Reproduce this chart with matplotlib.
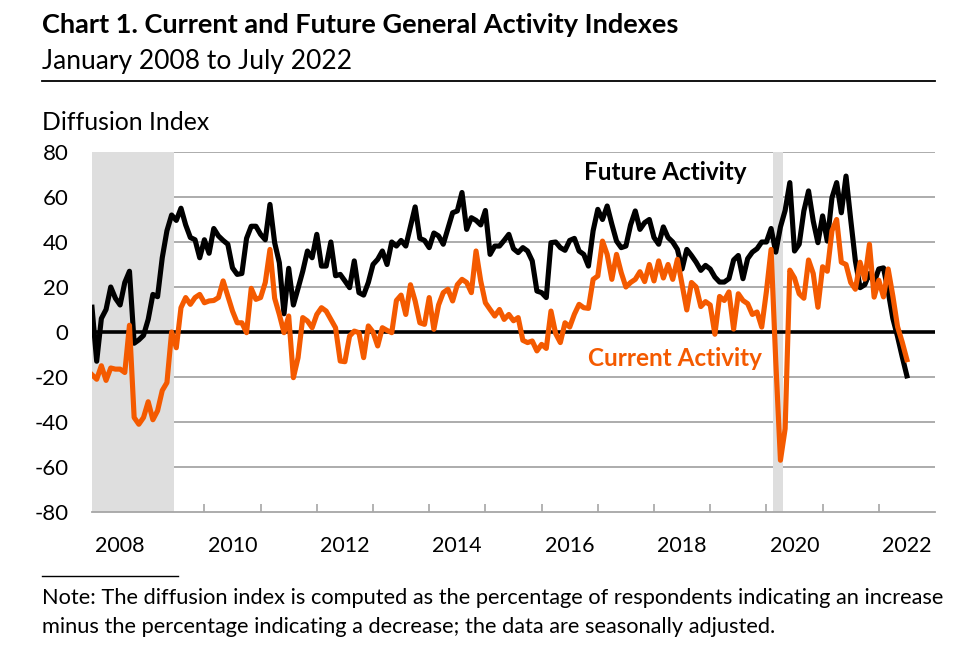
import numpy as np
import matplotlib.pyplot as plt

# Monthly diffusion indexes, January 2008 to July 2022
current = [
    -19, -21, -15, -21.5, -16, -16.5, -16.5, -18, 3, -38, -41, -38,
    -31, -39, -35, -26, -22.5, 0, -7, 10.8, 15.3, 12.3, 15.3, 16.7,
    13, 13.8, 14, 15.3, 22.7, 16, 9.3, 4.1, 4.1, -0.3, 19.4, 14.5,
    15.3, 22, 36.7, 15, 7.8, -0.3, 7.1, -20.3, -11.4, 6.4, 4.9, 1.9,
    7.8, 10.8, 9.3, 5.6, 1.9, -12.9, -13.2, -1.8, 0.4, -0.3, -11.4, 2.7,
    0, -6.2, 1.9, 0.7, -0.3, 14, 16.4, 7.8, 21, 13.8, 4.1, 3.4,
    15.3, 1.2, 12, 17.5, 19, 13.8, 21, 23.4, 22, 17.5, 36, 22.7,
    13, 10, 7.1, 10, 5.6, 7.8, 5, 6.4, -3.7, -4.7, -4, -8.4,
    -5.5, -7.3, 9.3, -0.7, -4.7, 4.1, 2.2, 7.9, 12.3, 10.8, 10.5, 23.4,
    24.9, 40.4, 34.5, 23.4, 34.5, 26.4, 20, 22, 23.4, 26.8, 22.4, 30,
    22.7, 31.6, 24, 30, 23.4, 32.3, 21, 9.8, 22, 20, 11.3, 13.5,
    12, -1, 15.8, 14, 17.8, 1.3, 17, 14, 12.6, 7.8, 8.9, 2.2,
    18, 36.7, -13, -57, -43, 27.5, 24, 17, 15, 32, 26, 11,
    29, 27, 45, 50, 31, 30, 22, 19, 31, 23.5, 39, 15.5,
    23, 15.6, 28, 16, 2.4, -4.5, -12.3,
]
future = [
    11, -13, 6, 10, 20, 15, 12, 22, 27, -5, -3.5, -1.5,
    5.6, 16.7, 15.7, 33, 45, 52, 49.6, 55, 47.6, 42, 41, 33,
    41, 35, 46, 42.7, 40.7, 39, 28.5, 25.6, 26, 41.6, 47, 47,
    43.4, 41, 56.7, 39.7, 30.8, 8.1, 28.3, 12, 19.4, 27, 36, 33,
    43.4, 29.3, 29.3, 40, 25, 25.6, 22.7, 19.7, 31.6, 17.5, 16.4, 22,
    30, 32.3, 36, 30, 40, 38.2, 40.7, 38.2, 47, 55.6, 41.6, 40.7,
    37.5, 44, 42.7, 39, 46, 53, 53.8, 62, 45.6, 50.8, 49.6, 47.6,
    54, 34.5, 38.2, 38.2, 40.7, 43.4, 37, 35.3, 37.5, 36, 31.6, 18.2,
    17.5, 15.3, 39.7, 40, 37.5, 36.3, 40.7, 41.6, 36, 34.5, 29.3, 45,
    54.5, 50, 56, 47.9, 40.4, 37.5, 38.2, 47.6, 53.8, 45.6, 48.6, 50,
    42, 39, 46.7, 42, 40, 36.7, 28, 36.7, 34, 31, 27.4, 29.6,
    28, 24.4, 22.2, 22.2, 23.7, 32, 34, 23.7, 32.6, 35.5, 37, 40,
    40, 46, 35.5, 46.7, 54, 66.4, 36, 39, 53.8, 62.7, 49.3, 39.7,
    51.6, 40.4, 59.7, 66.4, 53, 69.3, 50, 31.6, 19.7, 21, 26, 22,
    28, 28.5, 18, 6, -2, -11, -19.5,
]
year_labels = ['2008', '2010', '2012', '2014', '2016', '2018', '2020', '2022']
# recessions as (first month, last month) counted from January 2008
recessions = [(-1, 17), (145, 147)]

ORANGE = '#F45A00'
GRID = '#a6a6a6'
FONT = 'Lato'
plt.rcParams['font.family'] = [FONT, 'DejaVu Sans']

fig = plt.figure(figsize=(9.6, 6.65), dpi=100)
ax = fig.add_axes([92 / 960, 1 - 512 / 665, (935 - 92) / 960, 360 / 665])

x = np.arange(len(current))
ax.set_xlim(0, 180)
ax.set_ylim(-80, 80)

for y in range(-60, 81, 20):
    ax.axhline(y, color=GRID, lw=1.3, zorder=1)
for start, end in recessions:
    ax.axvspan(start + 0.5, end + 0.5, color='#dedede', lw=0, zorder=2)
ax.axhline(0, color='black', lw=2.6, zorder=3)

ax.plot(x, future, color='black', lw=3.7, zorder=4, solid_joinstyle='round')
ax.plot(x, current, color=ORANGE, lw=3.7, zorder=5, solid_joinstyle='round')

ax.text(122.5, 71, 'Future Activity', fontsize=17.5, fontweight='bold',
        color='black', ha='center', va='center')
ax.text(124.5, -12, 'Current Activity', fontsize=17.5, fontweight='bold',
        color=ORANGE, ha='center', va='center')

# axes styling
for side in ['top', 'right', 'left']:
    ax.spines[side].set_visible(False)
ax.spines['bottom'].set_color(GRID)
ax.spines['bottom'].set_linewidth(1.3)

ax.set_yticks(range(-80, 81, 20))
ax.set_yticklabels([str(v) for v in range(-80, 81, 20)], fontsize=16)
ax.tick_params(axis='y', length=0, pad=17)

ax.set_xticks([6 + 24 * k for k in range(len(year_labels))])
ax.set_xticklabels(year_labels, fontsize=15.5)
ax.set_xticks(range(12, 180, 12), minor=True)
ax.tick_params(axis='x', which='major', length=0, pad=17)
ax.tick_params(axis='x', which='minor', direction='in', length=6,
               color=GRID, width=1.2)

# titles and notes
fig.text(42 / 960, 1 - 25 / 665, 'Chart 1. Current and Future General Activity Indexes',
         fontsize=19.5, fontweight='bold', va='center')
fig.text(42 / 960, 1 - 62 / 665, 'January 2008 to July 2022', fontsize=19, va='center')
fig.add_artist(plt.Line2D([42 / 960, 935 / 960], [1 - 81 / 665] * 2, color='black', lw=1.3))
fig.text(42 / 960, 1 - 122 / 665, 'Diffusion Index', fontsize=17.8, va='center')

fig.add_artist(plt.Line2D([42 / 960, 178 / 960], [1 - 576 / 665] * 2, color='black', lw=1))
fig.text(42 / 960, 1 - 598 / 665,
         'Note: The diffusion index is computed as the percentage of respondents indicating an increase',
         fontsize=15.7, va='center')
fig.text(42 / 960, 1 - 627 / 665,
         'minus the percentage indicating a decrease; the data are seasonally adjusted.',
         fontsize=15.7, va='center')

fig.savefig('out.png', dpi=100)
